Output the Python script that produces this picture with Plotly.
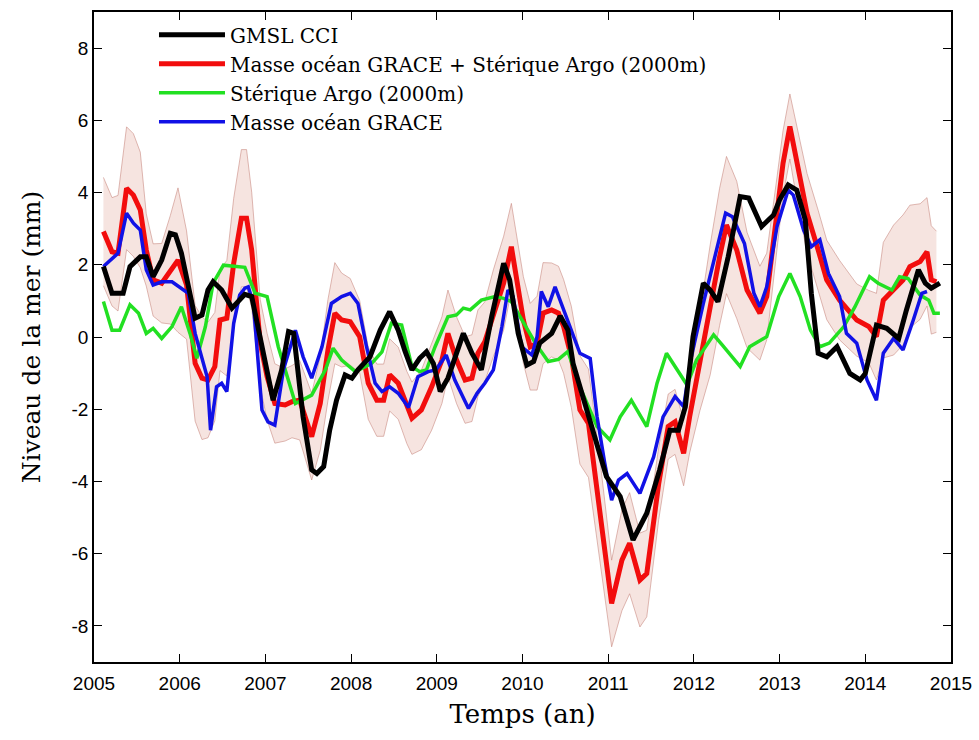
import plotly.graph_objects as go

# GMSL CCI (altimetry), mm
t_gmsl = [2005.11, 2005.21, 2005.34, 2005.42, 2005.54, 2005.61, 2005.69, 2005.79, 2005.89, 2005.95,
          2006.02, 2006.12, 2006.18, 2006.26, 2006.33, 2006.39, 2006.49, 2006.61, 2006.68, 2006.76,
          2006.84, 2006.96, 2007.09, 2007.19, 2007.27, 2007.33, 2007.44, 2007.54, 2007.60, 2007.68,
          2007.75, 2007.83, 2007.93, 2008.01, 2008.08, 2008.22, 2008.34, 2008.45, 2008.55, 2008.63,
          2008.71, 2008.80, 2008.88, 2008.96, 2009.04, 2009.13, 2009.31, 2009.41, 2009.52, 2009.64,
          2009.78, 2009.85, 2009.95, 2010.05, 2010.13, 2010.20, 2010.34, 2010.44, 2010.53, 2010.59,
          2010.79, 2010.98, 2011.14, 2011.29, 2011.45, 2011.60, 2011.72, 2011.82, 2011.90, 2011.99,
          2012.11, 2012.19, 2012.28, 2012.40, 2012.54, 2012.64, 2012.79, 2012.93, 2013.00, 2013.10,
          2013.20, 2013.30, 2013.37, 2013.45, 2013.55, 2013.67, 2013.82, 2013.94, 2014.00, 2014.13,
          2014.25, 2014.39, 2014.48, 2014.56, 2014.62, 2014.70, 2014.77, 2014.87]
v_gmsl = [1.95, 1.21, 1.21, 1.95, 2.22, 2.22, 1.67, 2.13, 2.87, 2.83,
          2.32, 1.12, 0.52, 0.61, 1.30, 1.53, 1.30, 0.80, 0.98, 1.18,
          1.12, -0.18, -1.75, -0.91, 0.15, 0.10, -2.21, -3.68, -3.78, -3.59,
          -2.58, -1.75, -1.05, -1.14, -0.91, -0.55, 0.19, 0.70, 0.19, -0.40,
          -0.91, -0.59, -0.41, -0.73, -1.51, -1.14, 0.10, -0.45, -0.91, 0.56,
          2.04, 1.58, 0.10, -0.78, -0.68, -0.17, 0.10, 0.58, 0.19, -0.73,
          -2.39, -3.87, -4.42, -5.62, -4.88, -3.68, -2.58, -2.58, -1.93, 0.01,
          1.49, 1.30, 0.98, 2.22, 3.89, 3.85, 3.06, 3.38, 3.80, 4.21,
          4.07, 3.24, 1.21, -0.45, -0.55, -0.27, -1.01, -1.19, -1.01, 0.33,
          0.24, -0.04, 0.75, 1.39, 1.86, 1.49, 1.35, 1.49]

# GRACE ocean mass + Argo steric (2000 m), mm, with its uncertainty
t_sum = [2005.11, 2005.21, 2005.28, 2005.38, 2005.46, 2005.54, 2005.61, 2005.69, 2005.79, 2005.89,
         2005.98, 2006.08, 2006.18, 2006.26, 2006.33, 2006.41, 2006.47, 2006.55, 2006.63, 2006.72,
         2006.78, 2006.84, 2006.94, 2007.02, 2007.11, 2007.23, 2007.31, 2007.40, 2007.54, 2007.64,
         2007.73, 2007.81, 2007.89, 2007.99, 2008.10, 2008.20, 2008.30, 2008.38, 2008.45, 2008.55,
         2008.65, 2008.71, 2008.82, 2008.94, 2009.06, 2009.13, 2009.23, 2009.33, 2009.41, 2009.48,
         2009.56, 2009.66, 2009.78, 2009.87, 2009.93, 2010.01, 2010.09, 2010.17, 2010.24, 2010.34,
         2010.42, 2010.48, 2010.57, 2010.67, 2010.77, 2010.89, 2011.04, 2011.16, 2011.25, 2011.37,
         2011.45, 2011.59, 2011.70, 2011.78, 2011.88, 2011.95, 2012.07, 2012.19, 2012.30, 2012.38,
         2012.50, 2012.62, 2012.77, 2012.85, 2012.97, 2013.04, 2013.12, 2013.20, 2013.32, 2013.45,
         2013.55, 2013.70, 2013.90, 2014.04, 2014.13, 2014.21, 2014.33, 2014.44, 2014.52, 2014.64,
         2014.72, 2014.77, 2014.83]
v_sum = [2.92, 2.36, 2.32, 4.12, 3.93, 3.52, 2.41, 1.58, 1.49, 1.86,
         2.13, 1.44, -0.73, -1.14, -1.19, -0.82, 0.47, 0.52, 2.04, 3.29,
         3.29, 2.41, -0.17, -1.10, -1.84, -1.88, -1.79, -1.75, -2.76, -1.84,
         -0.36, 0.66, 0.47, 0.42, 0.01, -1.28, -1.75, -1.75, -1.05, -1.28,
         -1.95, -2.25, -2.02, -1.38, -0.64, 0.10, -0.64, -1.19, -1.14, -0.45,
         -0.13, 0.66, 1.49, 2.50, 1.67, 0.47, -0.27, -0.17, 0.66, 0.75,
         0.66, 0.29, -0.55, -2.02, -2.39, -4.52, -7.38, -6.18, -5.71, -6.73,
         -6.55, -4.05, -2.48, -2.35, -3.22, -2.21, -0.64, 0.75, 2.22, 3.10,
         2.41, 1.30, 0.66, 1.12, 3.43, 4.81, 5.83, 4.81, 3.43, 2.41,
         1.58, 1.02, 0.47, 0.29, 0.01, 1.02, 1.30, 1.58, 1.95, 2.09,
         2.36, 1.58, 1.53]
e_sum = [1.5, 1.5, 1.6, 1.7, 1.7, 1.6, 1.0, 1.0, 1.1, 1.5,
         2.0, 1.5, 1.6, 1.7, 1.6, 1.5, 1.4, 1.6, 1.8, 1.9,
         1.9, 1.6, 1.2, 1.2, 1.1, 1.0, 1.0, 1.1, 1.2, 1.3,
         1.4, 1.4, 1.3, 1.2, 1.0, 1.0, 1.0, 1.0, 1.0, 1.0,
         1.0, 1.0, 1.1, 1.2, 1.2, 1.2, 1.2, 1.2, 1.2, 1.2,
         1.1, 1.2, 1.3, 1.2, 1.2, 1.2, 1.2, 1.3, 1.4, 1.3,
         1.3, 1.3, 1.4, 1.5, 1.5, 1.4, 1.2, 1.4, 1.4, 1.3,
         1.2, 1.0, 0.9, 0.9, 0.9, 1.0, 1.4, 1.8, 1.9, 1.9,
         1.9, 1.6, 1.3, 1.2, 1.0, 0.9, 0.9, 1.0, 1.1, 1.1,
         1.1, 1.1, 1.0, 1.0, 1.2, 1.6, 1.8, 1.8, 1.7, 1.6,
         1.5, 1.5, 1.4]

# Argo steric sea level (0-2000 m), mm
t_steric = [2005.11, 2005.21, 2005.30, 2005.42, 2005.52, 2005.61, 2005.69, 2005.79, 2005.91, 2006.02,
            2006.12, 2006.20, 2006.30, 2006.39, 2006.51, 2006.63, 2006.76, 2006.88, 2007.02, 2007.15,
            2007.35, 2007.54, 2007.70, 2007.79, 2007.89, 2008.05, 2008.24, 2008.36, 2008.47, 2008.59,
            2008.71, 2008.80, 2008.88, 2008.98, 2009.13, 2009.23, 2009.31, 2009.39, 2009.52, 2009.68,
            2009.78, 2009.87, 2009.99, 2010.15, 2010.30, 2010.42, 2010.53, 2010.67, 2010.87, 2011.02,
            2011.14, 2011.27, 2011.45, 2011.57, 2011.68, 2011.80, 2011.92, 2012.03, 2012.23, 2012.33,
            2012.54, 2012.65, 2012.75, 2012.85, 2012.99, 2013.12, 2013.24, 2013.36, 2013.47, 2013.58,
            2013.75, 2013.88, 2014.05, 2014.15, 2014.31, 2014.40, 2014.50, 2014.64, 2014.74, 2014.80,
            2014.87]
v_steric = [0.98, 0.19, 0.19, 0.89, 0.66, 0.10, 0.24, -0.04, 0.29, 0.84,
            0.10, -0.59, 0.29, 1.49, 1.99, 1.95, 1.93, 1.21, 1.12, -0.27,
            -1.84, -1.61, -0.91, -0.31, -0.64, -0.96, -0.73, -0.41, 0.38, 0.33,
            -0.82, -0.96, -0.91, -0.27, 0.56, 0.61, 0.80, 0.75, 1.02, 1.12,
            1.07, 0.98, 0.47, -0.17, -0.68, -0.62, -0.40, -1.38, -2.48, -2.85,
            -2.21, -1.75, -2.48, -1.28, -0.45, -0.91, -1.33, -0.64, 0.06, -0.22,
            -0.82, -0.27, -0.13, 0.01, 1.12, 1.76, 1.12, 0.19, -0.27, -0.17,
            0.29, 0.84, 1.67, 1.49, 1.30, 1.67, 1.62, 1.16, 1.02, 0.66,
            0.66]

# GRACE ocean mass, mm
t_mass = [2005.11, 2005.19, 2005.28, 2005.38, 2005.46, 2005.54, 2005.61, 2005.69, 2005.79, 2005.91,
          2006.00, 2006.10, 2006.18, 2006.26, 2006.32, 2006.36, 2006.43, 2006.49, 2006.55, 2006.63,
          2006.70, 2006.76, 2006.80, 2006.86, 2006.96, 2007.03, 2007.11, 2007.21, 2007.35, 2007.44,
          2007.54, 2007.66, 2007.77, 2007.89, 2007.99, 2008.08, 2008.18, 2008.28, 2008.36, 2008.45,
          2008.55, 2008.67, 2008.78, 2008.90, 2008.99, 2009.11, 2009.21, 2009.37, 2009.47, 2009.56,
          2009.66, 2009.76, 2009.83, 2009.89, 2009.99, 2010.11, 2010.17, 2010.22, 2010.30, 2010.38,
          2010.48, 2010.55, 2010.67, 2010.79, 2010.87, 2010.96, 2011.04, 2011.12, 2011.22, 2011.37,
          2011.53, 2011.64, 2011.78, 2011.88, 2011.97, 2012.11, 2012.23, 2012.37, 2012.45, 2012.59,
          2012.70, 2012.77, 2012.85, 2012.97, 2013.10, 2013.16, 2013.28, 2013.37, 2013.47, 2013.57,
          2013.70, 2013.78, 2013.90, 2014.02, 2014.13, 2014.21, 2014.33, 2014.44, 2014.56, 2014.66,
          2014.72]
v_mass = [1.95, 2.13, 2.32, 3.43, 3.15, 2.96, 1.86, 1.44, 1.53, 1.53,
          1.39, 1.21, 0.10, -0.64, -1.10, -2.58, -1.38, -1.28, -1.51, 0.38,
          1.16, 1.35, 1.39, 0.93, -2.02, -2.35, -2.44, -0.91, 0.19, -0.55,
          -1.14, -0.27, 0.93, 1.12, 1.21, 0.93, -0.27, -1.28, -1.51, -1.38,
          -1.56, -1.95, -1.10, -0.96, -0.91, -0.50, -1.19, -1.98, -1.56, -1.28,
          -0.91, 0.29, 1.30, 1.12, -0.27, -0.50, 0.01, 1.26, 0.84, 1.39,
          0.75, 0.35, -0.45, -0.59, -2.21, -3.50, -4.52, -3.96, -3.78, -4.33,
          -3.32, -2.21, -1.65, -1.93, -0.55, 0.93, 2.13, 3.43, 3.33, 2.59,
          1.21, 0.84, 1.39, 3.06, 4.07, 3.93, 2.96, 2.50, 2.69, 1.76,
          1.12, 0.10, -0.17, -1.19, -1.75, -0.45, -0.04, -0.36, 0.47, 1.21,
          1.26]

x_ticks = list(range(2005, 2016))
y_ticks = list(range(-8, 9, 2))

band_lo = [v - e for v, e in zip(v_sum, e_sum)]
band_hi = [v + e for v, e in zip(v_sum, e_sum)]

SERIF = "DejaVu Serif"
SANS = "Liberation Sans"

fig = go.Figure()

# uncertainty envelope of the mass + steric sum
fig.add_trace(go.Scatter(x=t_sum, y=band_lo, mode="lines", showlegend=False, hoverinfo="skip",
                         line=dict(color="rgba(196,130,120,0.55)", width=1)))
fig.add_trace(go.Scatter(x=t_sum, y=band_hi, mode="lines", showlegend=False, hoverinfo="skip",
                         fill="tonexty", fillcolor="rgba(236,196,186,0.45)",
                         line=dict(color="rgba(196,130,120,0.55)", width=1)))

fig.add_trace(go.Scatter(x=t_sum, y=v_sum, mode="lines", legendrank=2, legendgroup="sum",
                         name="Masse océan GRACE + Stérique Argo (2000m)",
                         line=dict(color="#f20d0d", width=5)))
fig.add_trace(go.Scatter(x=t_steric, y=v_steric, mode="lines", legendrank=3, legendgroup="steric",
                         name="Stérique Argo (2000m)",
                         line=dict(color="#22e022", width=3.5)))
fig.add_trace(go.Scatter(x=t_mass, y=v_mass, mode="lines", legendrank=4, legendgroup="mass",
                         name="Masse océan GRACE",
                         line=dict(color="#1111e6", width=3.5)))
fig.add_trace(go.Scatter(x=t_gmsl, y=v_gmsl, mode="lines", legendrank=1, legendgroup="gmsl",
                         name="GMSL CCI",
                         line=dict(color="#000000", width=5)))

axis_common = dict(showline=True, linecolor="black", linewidth=1.5, mirror="ticks",
                   ticks="inside", ticklen=8, tickwidth=1.2, tickcolor="black",
                   showgrid=False, zeroline=False,
                   tickfont=dict(family=SANS, size=19, color="black"))

fig.update_xaxes(range=[2005, 2015], tickvals=x_ticks, ticktext=[str(v) for v in x_ticks],
                 ticklabelstandoff=3,
                 title=dict(text="Temps (an)", font=dict(family=SERIF, size=26, color="black"),
                            standoff=12),
                 **axis_common)
fig.update_yaxes(range=[-9, 9], tickvals=y_ticks, ticktext=[str(v) for v in y_ticks],
                 title=dict(text="Niveau de la mer (mm)", font=dict(family=SERIF, size=25, color="black"),
                            standoff=24),
                 **axis_common)

fig.update_layout(
    width=979, height=740,
    margin=dict(l=94, r=28, t=12, b=78, autoexpand=False),
    paper_bgcolor="white", plot_bgcolor="white",
    legend=dict(x=0.07, y=0.995, xanchor="left", yanchor="top", traceorder="normal",
                bgcolor="rgba(0,0,0,0)", borderwidth=0,
                font=dict(family=SERIF, size=20, color="black"),
                tracegroupgap=3, itemwidth=66),
    showlegend=True,
)

fig.write_html("out.html")
